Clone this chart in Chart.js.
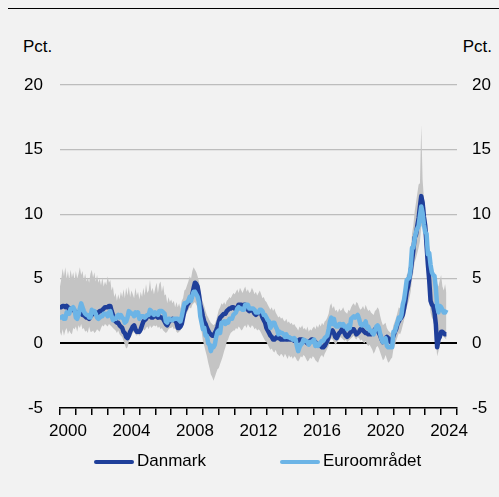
<!DOCTYPE html>
<html>
<head>
<meta charset="utf-8">
<script src="https://cdn.jsdelivr.net/npm/chart.js@4.4.1/dist/chart.umd.min.js"></script>
<style>
  html, body { margin: 0; padding: 0; background: #f2f2f2; }
  #wrap { position: relative; width: 499px; height: 497px; overflow: hidden;
          font-family: "Liberation Sans", Arial, sans-serif; color: #000; }
  #rule { position: absolute; left: 8px; right: 0; top: 8px; height: 0; border-top: 1.5px solid #000; }
  .unit { position: absolute; top: 37px; font-size: 17px; line-height: 20px; }
  canvas { position: absolute; left: 0; top: 0; }
  .leg { position: absolute; top: 451px; font-size: 17px; line-height: 20px; white-space: nowrap; }
  .swatch { position: absolute; top: 460px; height: 4px; width: 40px; border-radius: 2px; }
</style>
</head>
<body>
<div id="wrap">
  <div id="rule"></div>
  <div class="unit" style="left:23px;">Pct.</div>
  <div class="unit" style="right:7px;">Pct.</div>
  <canvas id="c" width="499" height="497"></canvas>
  <div class="swatch" style="left:94px;background:#1f3f9a;"></div>
  <div class="leg" style="left:137px;">Danmark</div>
  <div class="swatch" style="left:280px;background:#6cb4e6;"></div>
  <div class="leg" style="left:323px;">Euroområdet</div>
</div>
<script>
// Monthly annual inflation rates, January 2000 – May 2024 (pct.)
const startYear = 2000;
const seriesNames = ['Danmark', 'Euroområdet'];
const yTicks = [-5, 0, 5, 10, 15, 20];
const xLabelYears = [2000, 2004, 2008, 2012, 2016, 2020, 2024];

const dk = [
  2.8, 2.8, 2.9, 2.9, 2.8, 2.9, 2.8, 2.6, 2.7, 2.6, 2.6, 2.5,
  2.4, 2.4, 2.3, 2.3, 2.3, 2.2, 2.2, 2.1, 2.0, 2.0, 1.9, 2.1,
  2.2, 2.3, 2.4, 2.4, 2.3, 2.4, 2.5, 2.5, 2.6, 2.7, 2.8, 2.8,
  2.8, 2.9, 2.9, 2.5, 2.2, 2.0, 1.7, 1.6, 1.6, 1.4, 1.3, 1.2,
  0.9, 0.8, 0.5, 0.4, 0.6, 0.9, 1.1, 1.3, 1.4, 1.1, 0.9, 0.9,
  0.9, 1.1, 1.4, 1.7, 1.8, 1.9, 2.1, 2.1, 2.2, 2.0, 2.0, 2.1,
  2.1, 2.1, 2.0, 2.1, 2.0, 2.0, 1.9, 1.7, 1.5, 1.4, 1.6, 1.8,
  1.8, 1.9, 1.8, 1.8, 1.6, 1.2, 1.2, 1.3, 1.5, 2.0, 2.5, 2.7,
  3.0, 3.1, 3.4, 3.5, 3.8, 4.3, 4.7, 4.6, 4.4, 3.8, 3.0, 2.6,
  2.1, 1.7, 1.5, 1.2, 1.0, 0.8, 0.7, 0.6, 0.6, 0.8, 1.0, 1.3,
  1.7, 2.0, 2.1, 2.2, 2.3, 2.3, 2.5, 2.6, 2.7, 2.7, 2.8, 2.8,
  2.7, 2.7, 2.8, 3.0, 3.0, 3.0, 2.9, 3.0, 3.0, 2.9, 2.6, 2.5,
  2.6, 2.6, 2.5, 2.3, 2.2, 2.3, 2.4, 2.4, 2.3, 2.0, 1.8, 1.6,
  1.2, 1.0, 0.8, 0.6, 0.5, 0.3, 0.3, 0.4, 0.5, 0.4, 0.4, 0.3,
  0.3, 0.3, 0.4, 0.3, 0.3, 0.4, 0.3, 0.3, 0.3, 0.2, 0.2, 0.2,
  0.2, 0.3, 0.3, 0.3, 0.2, 0.2, 0.1, 0.0, 0.1, 0.2, 0.3, 0.3,
  0.2, 0.1, 0.0, -0.1, -0.1, -0.2, -0.3, -0.3, -0.2, 0.0, 0.2, 0.5,
  0.8, 0.9, 1.0, 0.8, 0.5, 0.4, 0.6, 0.8, 0.9, 1.1, 1.1, 0.8,
  0.6, 0.5, 0.6, 0.8, 0.9, 1.1, 1.1, 0.9, 0.7, 0.8, 0.9, 1.1,
  1.1, 1.0, 0.9, 0.8, 0.8, 0.7, 0.7, 0.7, 0.8, 0.9, 1.1, 1.1,
  1.0, 0.8, 0.6, 0.3, 0.1, 0.2, 0.4, 0.5, 0.4, 0.2, 0.1, 0.3,
  0.6, 0.9, 1.1, 1.5, 1.7, 1.9, 2.0, 2.2, 2.7, 3.3, 4.0, 4.4,
  5.0, 5.6, 6.4, 7.2, 8.2, 8.4, 9.1, 9.7, 10.6, 11.4, 10.9, 9.8,
  9.1, 7.6, 6.1, 4.9, 3.3, 3.0, 2.9, 2.4, 1.5, -0.3, 0.3, 0.5,
  0.9, 0.9, 0.8, 0.7, 0.7
];

const ea = [
  2.0, 2.0, 2.1, 1.9, 1.9, 2.4, 2.3, 2.3, 2.7, 2.7, 2.8, 2.6,
  2.0, 1.9, 2.2, 2.7, 3.1, 2.8, 2.5, 2.3, 2.2, 2.2, 2.0, 2.0,
  2.6, 2.4, 2.5, 2.3, 2.0, 1.9, 2.0, 2.1, 2.1, 2.3, 2.3, 2.3,
  2.1, 2.4, 2.5, 2.1, 1.8, 1.9, 1.9, 2.1, 2.2, 2.0, 2.2, 2.0,
  1.9, 1.6, 1.7, 2.0, 2.5, 2.4, 2.3, 2.3, 2.1, 2.4, 2.2, 2.4,
  1.9, 2.1, 2.1, 2.1, 2.0, 2.1, 2.2, 2.2, 2.6, 2.5, 2.3, 2.2,
  2.4, 2.3, 2.2, 2.5, 2.5, 2.5, 2.4, 2.3, 1.7, 1.6, 1.9, 1.9,
  1.8, 1.8, 1.9, 1.9, 1.9, 1.9, 1.8, 1.7, 2.1, 2.6, 3.1, 3.1,
  3.2, 3.3, 3.6, 3.3, 3.7, 4.0, 4.0, 3.8, 3.6, 3.2, 2.1, 1.6,
  1.1, 1.2, 0.6, 0.6, 0.0, -0.1, -0.6, -0.2, -0.3, -0.1, 0.5, 0.9,
  1.0, 0.8, 1.6, 1.6, 1.7, 1.5, 1.7, 1.6, 1.9, 1.9, 1.9, 2.2,
  2.3, 2.4, 2.7, 2.8, 2.7, 2.7, 2.6, 2.6, 3.0, 3.0, 3.0, 2.7,
  2.7, 2.7, 2.7, 2.6, 2.4, 2.4, 2.4, 2.6, 2.6, 2.5, 2.2, 2.2,
  2.0, 1.8, 1.7, 1.2, 1.4, 1.6, 1.6, 1.3, 1.1, 0.7, 0.9, 0.8,
  0.8, 0.7, 0.5, 0.7, 0.5, 0.5, 0.4, 0.4, 0.3, 0.4, 0.3, -0.2,
  -0.6, -0.3, -0.1, 0.0, 0.3, 0.2, 0.2, 0.1, -0.1, 0.1, 0.1, 0.2,
  0.3, -0.2, 0.0, -0.2, -0.1, 0.1, 0.2, 0.2, 0.4, 0.5, 0.6, 1.1,
  1.7, 2.0, 1.5, 1.9, 1.4, 1.3, 1.3, 1.5, 1.5, 1.4, 1.5, 1.3,
  1.3, 1.1, 1.4, 1.2, 1.9, 2.0, 2.1, 2.0, 2.1, 2.2, 1.9, 1.5,
  1.4, 1.5, 1.4, 1.7, 1.2, 1.3, 1.0, 1.0, 0.8, 0.7, 1.0, 1.3,
  1.4, 1.2, 0.7, 0.3, 0.1, 0.3, 0.4, -0.2, -0.3, -0.3, -0.3, -0.3,
  0.9, 0.9, 1.3, 1.6, 2.0, 1.9, 2.2, 3.0, 3.4, 4.1, 4.9, 5.0,
  5.1, 5.9, 7.4, 7.4, 8.1, 8.6, 8.9, 9.1, 9.9, 10.6, 10.1, 9.2,
  8.6, 8.5, 6.9, 7.0, 6.1, 5.5, 5.3, 5.2, 4.3, 2.9, 2.4, 2.9,
  2.8, 2.6, 2.4, 2.4, 2.6
];

// Spread across countries: lower and upper edge of the shaded band
const bandLow = [
  0.9, 0.6, 1.1, 0.6, 1.0, 1.2, 0.7, 1.0, 0.8, 0.7, 1.2, 1.1,
  1.3, 0.9, 1.4, 1.2, 1.5, 1.1, 1.2, 0.9, 1.0, 0.8, 1.3, 0.9,
  0.9, 1.0, 0.8, 0.9, 1.1, 1.0, 0.9, 1.2, 1.4, 1.3, 1.5, 1.4,
  1.3, 1.5, 1.4, 1.3, 1.2, 1.1, 1.0, 0.8, 1.0, 0.7, 0.6, 0.5,
  0.2, -0.1, -0.4, -0.3, 0.1, 0.4, 0.6, 0.8, 0.9, 0.7, 0.6, 0.7,
  0.6, 0.8, 0.9, 1.1, 1.0, 1.2, 1.3, 1.1, 1.4, 1.2, 1.3, 1.4,
  1.3, 1.4, 1.2, 1.3, 1.1, 1.2, 1.0, 0.9, 0.8, 0.9, 1.1, 1.2,
  1.2, 1.3, 1.1, 1.2, 0.9, 0.8, 0.9, 1.0, 1.2, 1.6, 2.0, 2.2,
  2.4, 2.6, 2.8, 2.7, 3.0, 3.1, 3.2, 3.0, 2.8, 2.5, 1.7, 0.9,
  0.2, -0.2, -0.6, -1.0, -1.5, -1.9, -2.4, -2.6, -2.9, -2.6, -2.3, -2.0,
  -1.9, -1.6, -1.3, -1.0, -0.6, -0.3, 0.1, 0.3, 0.6, 0.8, 0.9, 1.0,
  1.0, 1.2, 1.1, 1.3, 1.2, 1.0, 1.1, 1.3, 1.4, 1.2, 1.5, 1.3,
  1.2, 1.4, 1.3, 1.1, 1.2, 1.0, 1.1, 1.0, 0.8, 0.6, 0.4, 0.2,
  0.1, -0.1, -0.3, -0.5, -0.4, -0.6, -0.7, -0.5, -0.8, -0.9, -1.0, -0.8,
  -0.9, -1.1, -0.8, -1.0, -1.2, -0.9, -1.1, -1.0, -1.2, -1.0, -1.1, -1.3,
  -1.4, -1.2, -1.0, -1.1, -0.9, -1.0, -1.2, -1.4, -1.3, -1.1, -1.2, -1.0,
  -1.1, -1.3, -1.4, -1.5, -1.2, -1.0, -0.9, -1.1, -0.8, -0.6, -0.4, -0.2,
  0.2, 0.4, 0.3, 0.1, -0.1, 0.0, 0.2, 0.3, 0.5, 0.4, 0.3, 0.2,
  0.3, 0.1, 0.2, 0.3, 0.4, 0.5, 0.6, 0.4, 0.3, 0.5, 0.4, 0.2,
  0.3, 0.1, 0.0, 0.2, -0.1, -0.2, -0.1, -0.3, -0.5, -0.8, -0.6, -0.3,
  -0.2, -0.4, -0.7, -1.0, -1.3, -1.2, -0.9, -1.2, -1.5, -1.4, -1.2, -1.1,
  -0.4, -0.2, 0.2, 0.5, 0.8, 0.7, 1.0, 1.4, 1.8, 2.3, 2.8, 3.1,
  3.5, 4.0, 5.0, 5.5, 6.3, 6.6, 7.0, 7.4, 7.9, 9.0, 9.2, 8.4,
  7.1, 5.8, 4.6, 3.6, 2.4, 2.0, 1.8, 1.2, 0.2, -1.0, -0.6, -0.1,
  0.4, 0.6, 0.5, 0.4, 0.3
];

const bandHigh = [
  4.4, 5.0, 5.8, 5.2, 5.9, 5.0, 5.6, 4.9, 5.7, 5.1, 5.5, 4.9,
  5.6, 5.0, 5.4, 5.9, 5.3, 5.6, 4.9, 5.4, 4.8, 5.1, 4.7, 5.4,
  5.7, 5.1, 5.5, 4.8, 5.3, 4.7, 5.0, 4.5, 5.1, 4.4, 4.8, 4.5,
  5.2, 4.7, 4.9, 4.1, 4.4, 3.6, 3.9, 3.3, 3.8, 3.4, 4.0, 3.6,
  4.2, 3.5, 4.3, 3.7, 4.4, 3.6, 4.1, 3.8, 3.5, 4.3, 3.7, 4.0,
  3.4, 4.0, 3.6, 4.3, 3.7, 4.6, 3.9, 4.1, 4.9, 4.0, 4.3, 3.8,
  4.3, 4.7, 3.9, 4.6, 4.8, 4.0, 4.5, 3.7, 3.8, 3.1, 3.6, 3.2,
  3.4, 3.1, 3.3, 2.8, 3.2, 2.8, 3.1, 2.7, 3.3, 3.5, 4.1, 4.2,
  4.5, 4.8, 5.2, 5.0, 5.6, 5.9, 5.7, 5.5, 5.2, 4.8, 4.1, 3.5,
  3.2, 2.9, 2.5, 2.2, 2.0, 1.8, 1.6, 1.5, 1.4, 1.5, 1.8, 2.2,
  2.6, 2.8, 3.1, 3.0, 3.2, 3.0, 3.3, 3.4, 3.6, 3.5, 3.7, 3.9,
  3.8, 4.0, 4.2, 3.9, 4.3, 4.1, 3.9, 4.2, 4.4, 4.0, 4.2, 3.9,
  4.0, 4.3, 4.1, 3.8, 4.0, 3.7, 3.9, 4.1, 3.8, 3.5, 3.6, 3.3,
  3.2, 3.0, 2.8, 2.6, 2.8, 2.5, 2.7, 2.4, 2.2, 2.0, 2.1, 1.9,
  2.0, 1.8, 1.7, 1.9, 1.6, 1.7, 1.5, 1.6, 1.4, 1.5, 1.3, 1.2,
  1.0, 1.3, 1.2, 1.4, 1.1, 1.2, 1.0, 1.3, 0.9, 1.1, 1.0, 1.2,
  1.3, 1.1, 1.4, 1.2, 1.5, 1.3, 1.6, 1.4, 1.7, 1.8, 2.0, 2.3,
  2.9, 3.1, 2.7, 2.9, 2.5, 2.6, 2.4, 2.7, 2.5, 2.6, 2.8, 2.5,
  2.4, 2.3, 2.6, 2.5, 2.8, 3.0, 3.1, 2.9, 3.2, 3.1, 2.8, 2.6,
  2.7, 2.9, 2.6, 3.0, 2.7, 2.5, 2.6, 2.4, 2.3, 2.2, 2.5, 2.6,
  2.8, 2.6, 2.1, 1.7, 1.4, 1.5, 1.6, 1.2, 1.0, 0.9, 0.8, 0.9,
  1.4, 1.7, 2.0, 2.4, 2.8, 2.7, 3.0, 3.5, 3.9, 4.6, 5.3, 5.5,
  6.2, 6.8, 8.5, 9.1, 10.2, 10.9, 11.6, 12.3, 12.4, 16.9, 12.7, 11.2,
  10.5, 9.4, 8.2, 7.5, 6.6, 6.0, 5.7, 5.3, 5.0, 4.6, 4.4, 4.9,
  5.3, 4.4, 4.1, 4.6, 3.9
];

const toPoints = arr => arr.map((v, i) => ({ x: startYear + i / 12, y: v }));

const FONT = { family: '"Liberation Sans", Arial, sans-serif', size: 17 };
Chart.defaults.font = FONT;
Chart.defaults.color = '#000';

new Chart(document.getElementById('c'), {
  type: 'line',
  data: {
    datasets: [
      { label: seriesNames[1], data: toPoints(ea), borderColor: '#6cb4e6', borderWidth: 4.5,
        pointRadius: 0, tension: 0, fill: false, order: 0, borderJoinStyle: 'round' },
      { label: seriesNames[0], data: toPoints(dk), borderColor: '#1f3f9a', borderWidth: 4.5,
        pointRadius: 0, tension: 0, fill: false, order: 1, borderJoinStyle: 'round' },
      { label: 'band-low', data: toPoints(bandLow), borderWidth: 0, borderColor: 'rgba(0,0,0,0)',
        pointRadius: 0, tension: 0, fill: false, order: 3 },
      { label: 'band-high', data: toPoints(bandHigh), borderWidth: 0, borderColor: 'rgba(0,0,0,0)',
        backgroundColor: '#c4c4c4', pointRadius: 0, tension: 0, fill: '-1', order: 2 }
    ]
  },
  options: {
    responsive: false,
    animation: false,
    parsing: true,
    layout: { padding: { top: 85, left: 0, right: 0, bottom: 0 } },
    plugins: { legend: { display: false }, tooltip: { enabled: false }, title: { display: false } },
    scales: {
      x: {
        type: 'linear',
        min: startYear,
        max: 2025,
        afterBuildTicks: (scale) => {
          const t = [];
          for (let k = 0; k <= (2025 - startYear) * 2; k++) t.push({ value: startYear + k / 2 });
          scale.ticks = t;
        },
        afterFit: (scale) => { scale.height = 89; },
        ticks: {
          autoSkip: false,
          maxRotation: 0,
          minRotation: 0,
          padding: 6,
          callback: (value) => {
            const y = value - 0.5;
            return xLabelYears.includes(y) ? String(y) : '';
          }
        },
        grid: {
          drawOnChartArea: false,
          drawTicks: true,
          tickLength: 7,
          lineWidth: 1.5,
          tickColor: (ctx) => (ctx.tick && Number.isInteger(ctx.tick.value)) ? '#000' : 'rgba(0,0,0,0)'
        },
        border: { display: true, color: '#000', width: 1.5 }
      },
      y: {
        position: 'left',
        min: -5,
        max: 20,
        afterBuildTicks: (scale) => { scale.ticks = yTicks.map(v => ({ value: v })); },
        afterFit: (scale) => { scale.width = 60; },
        ticks: { padding: 17 },
        grid: {
          drawTicks: false,
          color: (ctx) => {
            const v = ctx.tick ? ctx.tick.value : null;
            if (v === 0) return '#000';
            if (v === -5) return 'rgba(0,0,0,0)';
            return '#bdbdbd';
          },
          lineWidth: (ctx) => (ctx.tick && ctx.tick.value === 0) ? 2 : 1.2
        },
        border: { display: false }
      },
      y2: {
        position: 'right',
        min: -5,
        max: 20,
        afterBuildTicks: (scale) => { scale.ticks = yTicks.map(v => ({ value: v })); },
        afterFit: (scale) => { scale.width = 42; },
        ticks: { padding: 15 },
        grid: { display: false, drawTicks: false },
        border: { display: false }
      }
    }
  }
});
</script>
</body>
</html>
